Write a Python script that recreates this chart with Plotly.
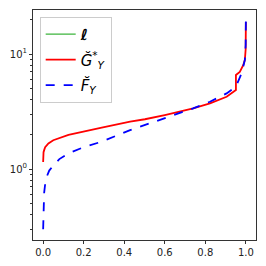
import plotly.graph_objects as go

# green "ℓ" series: appears only in the legend
x_l = [None]
y_l = [None]

# red series  G-breve*_Y
x_G = [0.0, 0.0, 0.002, 0.005, 0.01, 0.026, 0.05, 0.125, 0.2, 0.289, 0.429, 0.502, 0.6, 0.74, 0.823, 0.905, 0.951, 0.951, 0.97, 0.987, 0.995, 0.999, 1.0]
y_G = [1.15, 1.3, 1.4, 1.46, 1.55, 1.67, 1.78, 1.98, 2.13, 2.29, 2.58, 2.71, 2.95, 3.37, 3.73, 4.25, 4.86, 6.57, 7.0, 8.0, 8.87, 11.0, 19.0]

# blue dashed series  F-breve_Y
x_F = [0.0, 0.002, 0.005, 0.01, 0.018, 0.03, 0.051, 0.08, 0.125, 0.2, 0.289, 0.429, 0.502, 0.6, 0.74, 0.823, 0.905, 0.951, 0.979, 0.995, 0.999, 1.0]
y_F = [0.3, 0.45, 0.62, 0.74, 0.86, 0.97, 1.08, 1.22, 1.37, 1.55, 1.73, 2.18, 2.41, 2.8, 3.37, 3.85, 4.55, 5.2, 6.8, 8.9, 12.0, 19.8]

x_ticks = [0.0, 0.2, 0.4, 0.6, 0.8, 1.0]
x_ticklabels = ["0.0", "0.2", "0.4", "0.6", "0.8", "1.0"]
y_ticks = [1, 10]
y_ticklabels = ["10<sup>0</sup>", "10<sup>1</sup>"]
y_minor = [0.3, 0.4, 0.5, 0.6, 0.7, 0.8, 0.9, 2, 3, 4, 5, 6, 7, 8, 9, 20]

fig = go.Figure()
fig.add_trace(go.Scatter(x=x_l, y=y_l, mode="lines", name="<b><i>ℓ</i></b>", legendgroup="a",
                         line=dict(color="#3cb43c", width=1.2)))
fig.add_trace(go.Scatter(x=x_G, y=y_G, mode="lines", name="<i>Ğ</i><sup>*</sup><sub><i>Y</i></sub>",
                         legendgroup="b", line=dict(color="#ff0000", width=1.8)))
fig.add_trace(go.Scatter(x=x_F, y=y_F, mode="lines", name="<i>F̆</i><sub><i>Y</i></sub>",
                         legendgroup="c", line=dict(color="#0000ff", width=1.8, dash="dash")))

axis_common = dict(showgrid=False, zeroline=False, showline=True, linecolor="#333333",
                   linewidth=1, mirror=True, ticks="outside", ticklen=3, tickcolor="#333333",
                   automargin=False,
                   tickfont=dict(family="DejaVu Sans", size=10, color="#222222"))

fig.update_xaxes(range=[-0.05, 1.05], tickvals=x_ticks, ticktext=x_ticklabels, **axis_common)
fig.update_yaxes(type="log", range=[-0.617, 1.383], tickvals=y_ticks, ticktext=y_ticklabels,
                 minor=dict(tickvals=y_minor, ticks="outside", ticklen=2, tickcolor="#333333"),
                 **axis_common)

fig.update_layout(
    width=266, height=266,
    margin=dict(l=33, r=10, t=10, b=26, autoexpand=False),
    plot_bgcolor="white", paper_bgcolor="white",
    font=dict(family="DejaVu Sans", size=14, color="black"),
    legend=dict(x=0.03, y=0.97, xanchor="left", yanchor="top",
                bgcolor="rgba(255,255,255,0.8)", bordercolor="#cccccc", borderwidth=1,
                font=dict(size=15), tracegroupgap=3, itemwidth=30),
    showlegend=True,
)

fig.write_html("out.html", config={"displayModeBar": False},
               post_script="document.body.style.margin='0px';")
